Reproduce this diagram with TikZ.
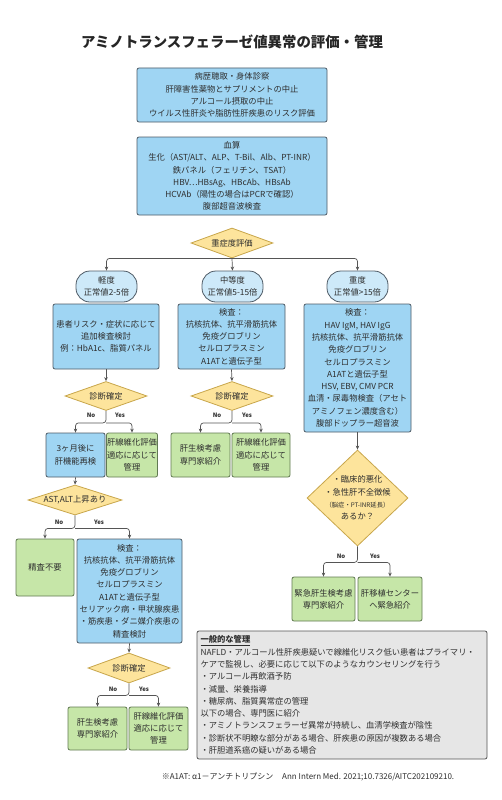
\documentclass[tikz,border=0pt]{standalone}
\usepackage{fontspec}
\setmainfont{Noto Sans CJK JP}
\usetikzlibrary{shapes.geometric,arrows.meta}
\definecolor{boxblue}{HTML}{9FD5F3}
\definecolor{stadblue}{HTML}{CDE9F9}
\definecolor{boxgreen}{HTML}{C6E6A8}
\definecolor{decyel}{HTML}{FDE49C}
\definecolor{decline}{HTML}{C8A64B}
\definecolor{graybox}{HTML}{E6E6E6}
\definecolor{bordgray}{HTML}{4F5B66}
\definecolor{bordgreen}{HTML}{617A52}
\definecolor{txt}{HTML}{2E2E2E}
\definecolor{arrcol}{HTML}{555555}
\tikzset{
  base/.style={rectangle, rounded corners=2pt, line width=0.8pt, align=center, inner sep=0pt,
    text=txt, font=\fontsize{8.3}{12.3}\selectfont},
  bluebox/.style={base, draw=bordgray, fill=boxblue},
  greenbox/.style={base, draw=bordgreen, fill=boxgreen},
  stadium/.style={base, rounded corners=14pt, draw=bordgray, fill=stadblue},
  decision/.style={diamond, draw=decline, fill=decyel, line width=0.8pt, inner sep=0pt},
  dtext/.style={align=center, inner sep=0pt, text=txt, font=\fontsize{8.3}{12.3}\selectfont},
  yn/.style={inner sep=0pt, text=txt, font=\bfseries\fontsize{6}{7}\selectfont},
  arr/.style={draw=arrcol, line width=0.7pt, rounded corners=3pt, -{Stealth[length=4pt,width=3.5pt]}},
}
\begin{document}
\begin{tikzpicture}[x=1pt,y=-1pt]
\useasboundingbox[fill=white] (0,0) rectangle (502,800);
% title
\node[inner sep=0pt, text=black!85, font=\bfseries\fontsize{14.4}{16}\selectfont] (title) at (232,42) {アミノトランスフェラーゼ値異常の評価・管理};
% top boxes
\node[bluebox, minimum width=190pt, minimum height=54pt] (n1) at (232,95)
 {病歴聴取・身体診察\\肝障害性薬物とサプリメントの中止\\アルコール摂取の中止\\ウイルス性肝炎や脂肪性肝疾患のリスク評価};
\node[bluebox, minimum width=190pt, minimum height=78pt] (n2) at (232,176)
 {血算\\生化（AST/ALT、ALP、T-Bil、Alb、PT-INR）\\鉄パネル（フェリチン、TSAT）\\HBV⋯HBsAg、HBcAb、HBsAb\\HCVAb（陽性の場合はPCRで確認）\\腹部超音波検査};
\node[decision, minimum width=82pt, minimum height=30pt] (d1) at (232,243) {};
\node[dtext] (d1t) at (d1.center) {重症度評価};
% severity
\node[stadium, minimum width=61pt, minimum height=31pt] (s1) at (106.5,286.5) {軽度\\正常値2-5倍};
\node[stadium, minimum width=61pt, minimum height=31pt] (s2) at (232.5,286.5) {中等度\\正常値5-15倍};
\node[stadium, minimum width=61pt, minimum height=31pt] (s3) at (357.5,286.5) {重度\\正常値>15倍};
\draw[arr] (d1.south) -| (s1.north);
\draw[arr] (d1.south) -- (s2.north);
\draw[arr] (d1.south) -| (s3.north);
% test boxes
\node[bluebox, minimum width=106pt, minimum height=65pt] (b1) at (106,336.5)
 {患者リスク・症状に応じて\\追加検査検討\\例：HbA1c、脂質パネル};
\node[bluebox, minimum width=107pt, minimum height=65pt] (b2) at (231.5,336.5)
 {検査：\\抗核抗体、抗平滑筋抗体\\免疫グロブリン\\セルロプラスミン\\A1ATと遺伝子型};
\node[bluebox, minimum width=107pt, minimum height=128pt] (b3) at (357.5,368)
 {検査：\\HAV IgM, HAV IgG\\抗核抗体、抗平滑筋抗体\\免疫グロブリン\\セルロプラスミン\\A1ATと遺伝子型\\HSV, EBV, CMV PCR\\血清・尿毒物検査（アセト\\アミノフェン濃度含む）\\腹部ドップラー超音波};
% left branch
\node[decision, minimum width=82pt, minimum height=29pt] (dd1) at (106,396) {};
\node[dtext] (dd1t) at (dd1.center) {診断確定};
\draw[arr] (b1.south) -- (dd1.north);
\node[bluebox, minimum width=59pt, minimum height=44pt] (c1) at (75.5,455) {3ヶ月後に\\肝機能再検};
\node[greenbox, minimum width=51pt, minimum height=44pt] (c2) at (132,455) {肝線維化評価\\適応に応じて\\管理};
\draw[arr] (dd1.south) -- ++(0,12) coordinate (j1) -| (c1.north);
\draw[arr] (j1) -| (c2.north);
\node[yn] (no1) at (91,415) {No};
\node[yn] (yes1) at (120,415) {Yes};
% middle branch
\node[decision, minimum width=82pt, minimum height=29pt] (dd2) at (232,396) {};
\node[dtext] (dd2t) at (dd2.center) {診断確定};
\draw[arr] (b2.south) -- (dd2.north);
\node[greenbox, minimum width=59pt, minimum height=44pt] (g1) at (200.5,455) {肝生検考慮\\専門家紹介};
\node[greenbox, minimum width=58pt, minimum height=44pt] (g2) at (261,455) {肝線維化評価\\適応に応じて\\管理};
\draw[arr] (dd2.south) -- ++(0,12) coordinate (j2) -| (g1.north);
\draw[arr] (j2) -| (g2.north);
\node[yn] (no2) at (217,415) {No};
\node[yn] (yes2) at (247,415) {Yes};
% AST branch
\node[decision, minimum width=94pt, minimum height=30pt] (ast) at (75,500) {};
\node[dtext] (astt) at (ast.center) {AST,ALT上昇あり};
\draw[arr] (c1.south) -- (ast.north);
\node[greenbox, minimum width=58pt, minimum height=57pt] (e1) at (45,567.5) {精査不要};
\node[bluebox, minimum width=105pt, minimum height=104pt] (e2) at (129.5,591)
 {検査：\\抗核抗体、抗平滑筋抗体\\免疫グロブリン\\セルロプラスミン\\A1ATと遺伝子型\\セリアック病・甲状腺疾患\\・筋疾患・ダニ媒介疾患の\\精査検討};
\draw[arr] (ast.south) -- ++(0,13) coordinate (j3) -| (e1.north);
\draw[arr] (j3) -| (e2.north);
\node[yn] (no3) at (59,522) {No};
\node[yn] (yes3) at (99,522) {Yes};
\node[decision, minimum width=82pt, minimum height=30pt] (dd3) at (129,668) {};
\node[dtext] (dd3t) at (dd3.center) {診断確定};
\draw[arr] (e2.south) -- (dd3.north);
\node[greenbox, minimum width=59pt, minimum height=43pt] (f1) at (97.5,728.5) {肝生検考慮\\専門家紹介};
\node[greenbox, minimum width=59pt, minimum height=43pt] (f2) at (158.5,728.5) {肝線維化評価\\適応に応じて\\管理};
\draw[arr] (dd3.south) -- ++(0,12) coordinate (j4) -| (f1.north);
\draw[arr] (j4) -| (f2.north);
\node[yn] (no4) at (113,689) {No};
\node[yn] (yes4) at (144,689) {Yes};
% severe branch
\node[decision, minimum width=101pt, minimum height=96pt] (big) at (357.5,498) {};
\node[dtext] (bigt) at (big.center) {・臨床的悪化\\・急性肝不全徴候\\{\fontsize{6.3}{12.3}\selectfont（脳症・PT-INR延長）}\\あるか？};
\draw[arr] (b3.south) -- (big.north);
\node[greenbox, minimum width=63pt, minimum height=44pt] (h1) at (323.5,599) {緊急肝生検考慮\\専門家紹介};
\node[greenbox, minimum width=64pt, minimum height=44pt] (h2) at (390,599) {肝移植センター\\へ緊急紹介};
\draw[arr] (big.south) -- ++(0,16) coordinate (j5) -| (h1.north);
\draw[arr] (j5) -| (h2.north);
\node[yn] (no5) at (341,556) {No};
\node[yn] (yes5) at (375,556) {Yes};
% general management
\node[base, draw=arrcol, fill=graybox, align=left, text width=283pt, inner xsep=3.5pt, minimum height=128pt] (gen) at (342,695)
 {\underline{\textbf{一般的な管理}}\\
 NAFLD・アルコール性肝疾患疑いで線維化リスク低い患者はプライマリ・\\
 ケアで監視し、必要に応じて以下のようなカウンセリングを行う\\
 ・アルコール再飲酒予防\\
 ・減量、栄養指導\\
 ・糖尿病、脂質異常症の管理\\
 以下の場合、専門医に紹介\\
 ・アミノトランスフェラーゼ異常が持続し、血清学検査が陰性\\
 ・診断状不明瞭な部分がある場合、肝疾患の原因が複数ある場合\\
 ・肝胆道系癌の疑いがある場合};
% footnote
\node[inner sep=0pt, text=txt, font=\fontsize{8}{10}\selectfont] (foot) at (308,777) {※A1AT: α1－アンチトリプシン\hspace{9pt}Ann Intern Med. 2021;10.7326/AITC202109210.};
\end{tikzpicture}
\end{document}
